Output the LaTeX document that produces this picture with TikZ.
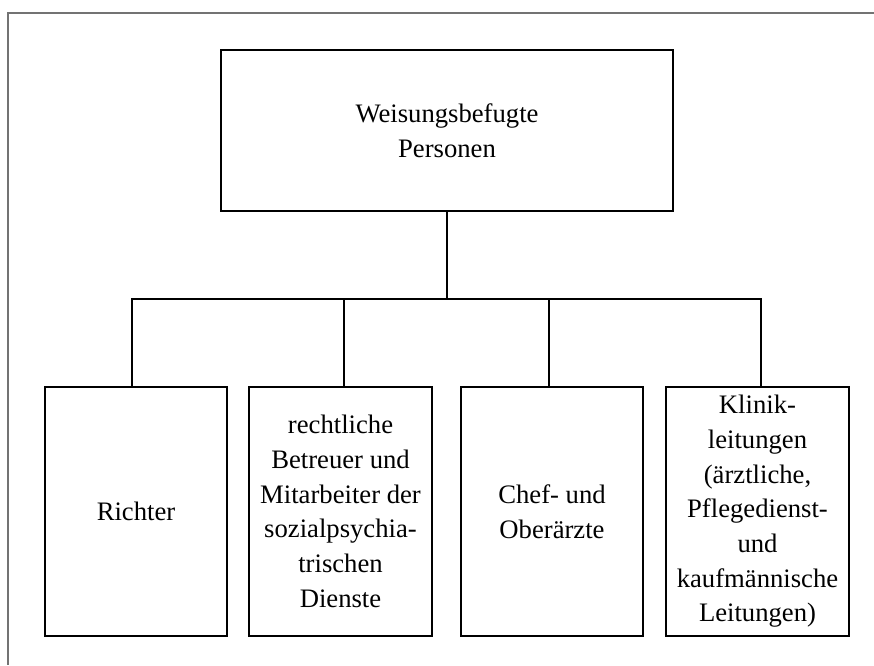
\documentclass[tikz,border=0pt]{standalone}
\usepackage{fontspec}
\setmainfont{Liberation Serif}
\usetikzlibrary{calc}
\begin{document}
\begin{tikzpicture}[x=0.75pt,y=-0.75pt,
  frameline/.style={draw=black!55,line width=1.1pt},
  orgbox/.style={draw=black,line width=0.8pt,inner sep=0pt,align=center,
    font=\fontsize{20pt}{26pt}\selectfont},
  link/.style={draw=black,line width=0.8pt}]
\useasboundingbox (0,0) rectangle (874,665);
% open outer frame (top and left edges)
\draw[frameline] (874,13) -- (8,13) -- (8,665);
% top box
\node[orgbox,minimum width=339pt,minimum height=120.75pt] (top) at (447,130.5)
  {Weisungsbefugte\\Personen};
% lower row
\node[orgbox,minimum width=136.5pt,minimum height=186.75pt] (b1) at (136,511.5)
  {Richter};
\node[orgbox,minimum width=137.25pt,minimum height=186.75pt] (b2) at (340.5,511.5)
  {rechtliche\\Betreuer und\\Mitarbeiter der\\sozialpsychia-\\trischen\\Dienste};
\node[orgbox,minimum width=136.5pt,minimum height=186.75pt] (b3) at (552,511.5)
  {Chef- und\\Oberärzte};
\node[orgbox,minimum width=137.25pt,minimum height=186.75pt] (b4) at (757.5,511.5)
  {Klinik-\\leitungen\\(ärztliche,\\Pflegedienst-\\und\\kaufmännische\\Leitungen)};
% connector tree
\coordinate (bus) at (447,299);
\coordinate (d1) at ($(b1.north)+(-4,0)$);
\coordinate (d2) at ($(b2.north)+(3.5,0)$);
\coordinate (d3) at ($(b3.north)+(-3,0)$);
\coordinate (d4) at ($(b4.north)+(3.5,0)$);
\draw[link] (top.south) -- (top.south |- bus);
\draw[link] (d1) -- (d1 |- bus) -- (d4 |- bus) -- (d4);
\draw[link] (d2) -- (d2 |- bus);
\draw[link] (d3) -- (d3 |- bus);
\end{tikzpicture}
\end{document}
